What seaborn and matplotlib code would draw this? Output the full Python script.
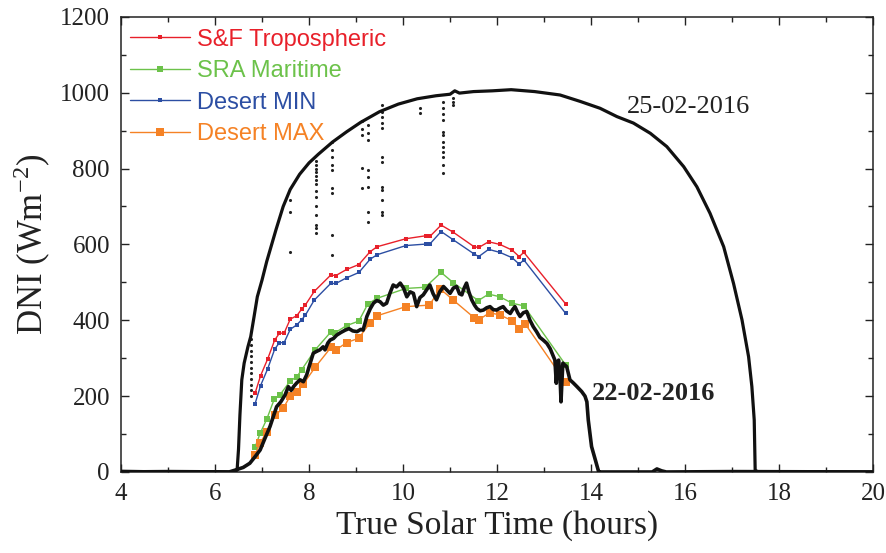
import numpy as np
import pandas as pd
import matplotlib
matplotlib.use("Agg")
import matplotlib.pyplot as plt
import seaborn as sns
from matplotlib.ticker import MultipleLocator

# ---------------- data ----------------
# Clear day 25-02-2016 (measured DNI, smooth envelope)
clear_t = [4.0, 5.0, 6.0, 6.4, 6.47, 6.5, 6.53, 6.57, 6.62, 6.7, 6.76, 6.83, 6.9, 7.0,
           7.1, 7.3, 7.45, 7.6, 7.8, 8.0, 8.2, 8.5, 8.8, 9.1, 9.5, 9.9, 10.3, 10.7,
           11.0, 11.1, 11.2, 11.5, 11.9, 12.3, 12.8, 13.34, 13.77, 14.19, 14.55, 14.9,
           15.26, 15.61, 15.97, 16.25, 16.53, 16.82, 17.03, 17.21, 17.35, 17.42, 17.47,
           17.49, 17.55, 18.5, 20.0]
clear_v = [2, 0, 1, 0, 5, 60, 150, 243, 287, 330, 357, 409, 462, 506,
           555, 640, 700, 745, 785, 815, 838, 870, 897, 922, 950, 970, 984, 992,
           996, 1005, 999, 1003, 1005, 1008, 1003, 994, 977, 959, 937, 920,
           893, 858, 805, 752, 682, 594, 497, 401, 304, 225, 137,
           5, 0, 1, 0]

# Cloud-affected samples of 25-02-2016 (scattered dots)
dots_t = ([6.76] * 11 + [7.6] * 3 + [8.15] * 14 + [8.49] * 9 + [9.13] * 5 + [9.26] * 8 +
          [9.56] * 12 + [10.36] * 2 + [10.84] * 12 + [11.06] * 3)
dots_v = ([200, 215, 230, 245, 260, 275, 290, 305, 320, 335, 350] +
          [717, 686, 581] +
          [820, 810, 800, 790, 780, 770, 760, 740, 726, 700, 678, 651, 643, 630] +
          [870, 850, 830, 810, 797, 749, 736, 625, 572] +
          [925, 905, 889, 802, 749] +
          [915, 895, 876, 797, 778, 752, 686, 659] +
          [968, 950, 935, 920, 907, 831, 818, 752, 744, 717, 686, 678] +
          [960, 947] +
          [975, 960, 945, 928, 897, 889, 871, 857, 844, 831, 810, 789] +
          [986, 976, 968])

# Cloudy day 22-02-2016
cloud_t = [4.0, 5.0, 6.3, 6.43, 6.6, 6.74, 6.85, 6.96, 7.05, 7.17, 7.31, 7.4, 7.49, 7.56,
           7.62, 7.67, 7.74, 7.81, 7.88, 7.95, 8.02, 8.09, 8.16, 8.23, 8.3, 8.34, 8.4,
           8.45, 8.52, 8.59, 8.68, 8.77, 8.85, 8.93, 9.02, 9.1, 9.15, 9.23, 9.3, 9.37,
           9.44, 9.51, 9.58, 9.65, 9.72, 9.79, 9.86, 9.94, 10.01, 10.08, 10.15, 10.22,
           10.29, 10.36, 10.43, 10.5, 10.57, 10.64, 10.71, 10.78, 10.86, 10.93, 11.0,
           11.07, 11.14, 11.2, 11.25, 11.3, 11.35, 11.4, 11.46, 11.52, 11.57, 11.64,
           11.71, 11.78, 11.85, 11.92, 11.99, 12.06, 12.13, 12.2, 12.28, 12.33, 12.38,
           12.44, 12.49, 12.56, 12.63, 12.7, 12.77, 12.84, 12.91, 12.98, 13.06, 13.13,
           13.2, 13.23, 13.26, 13.29, 13.31, 13.34, 13.36, 13.38, 13.4, 13.44, 13.48,
           13.55, 13.62, 13.7, 13.8, 13.87, 13.91, 13.94, 14.01, 14.09, 14.16, 14.2,
           15.3, 15.4, 15.5, 15.6, 17.0, 20.0]
cloud_v = [0, 1, 0, 5, 12, 23, 40, 58, 85, 120, 172, 185, 203, 225,
           215, 225, 235, 243, 238, 256, 285, 313, 318, 322, 330, 322, 340,
           348, 352, 361, 368, 374, 378, 372, 370, 376, 374, 410, 430, 445,
           452, 449, 440, 445, 471, 493, 488, 498, 485, 462, 475, 471,
           436, 460, 467, 480, 493, 470, 454, 475, 489, 480, 471,
           485, 489, 470, 467, 485, 498, 475, 454, 440, 431, 425,
           427, 433, 436, 428, 427, 432, 436, 425, 418, 428, 436,
           420, 410, 420, 423, 400, 383, 370, 355, 348, 339, 325,
           304, 295, 234, 290, 295, 250, 185, 240, 287, 282, 278,
           243, 235, 225, 212, 200, 185, 137, 67, 32, 1, 0,
           0, 8, 3, 0, 1, 0]

# Model series
sf_t = [6.85, 6.97, 7.12, 7.27, 7.37, 7.47, 7.6, 7.74, 7.84, 7.92, 8.11, 8.46, 8.57, 8.8,
        9.06, 9.3, 9.45, 10.06, 10.49, 10.57, 10.81, 11.07, 11.51, 11.61, 11.82, 12.06,
        12.32, 12.47, 12.57, 13.46]
sf_v = [207, 254, 298, 348, 366, 366, 403, 412, 429, 440, 476, 519, 518, 534,
        547, 581, 594, 615, 623, 621, 651, 632, 594, 592, 607, 600,
        585, 568, 579, 443]
dmin_v = [179, 228, 272, 324, 341, 341, 376, 388, 401, 413, 453, 497, 497, 512,
          526, 561, 573, 597, 601, 601, 634, 612, 575, 568, 587, 579,
          565, 548, 559, 418]

sra_t = [6.85, 6.96, 7.1, 7.26, 7.38, 7.6, 7.74, 7.84, 8.13, 8.47, 8.55, 8.8, 9.06, 9.25,
         9.45, 10.06, 10.47, 10.81, 11.07, 11.6, 11.82, 12.06, 12.32, 12.57, 13.46]
sra_v = [65, 102, 139, 192, 203, 240, 251, 269, 322, 370, 367, 386, 398, 443,
         458, 484, 487, 526, 499, 452, 469, 462, 445, 438, 282]

dmax_t = [6.85, 6.96, 7.1, 7.28, 7.45, 7.6, 7.74, 7.88, 8.13, 8.47, 8.57, 8.8, 9.06, 9.3,
          9.45, 10.06, 10.56, 10.79, 11.06, 11.51, 11.61, 11.84, 12.06, 12.32, 12.47,
          12.6, 13.46]
dmax_v = [45, 76, 106, 150, 168, 200, 212, 232, 276, 329, 322, 341, 353, 394,
          412, 436, 440, 483, 454, 407, 401, 420, 414, 399, 376,
          390, 236]

x_ticks = [4, 6, 8, 10, 12, 14, 16, 18, 20]
y_ticks = [0, 200, 400, 600, 800, 1000, 1200]

RED = "#e8202a"
GREEN = "#6cc24a"
BLUE = "#2c4ea3"
ORANGE = "#f58225"

# ---------------- plotting ----------------
sns.set_theme(style="ticks")
plt.rcParams["font.family"] = ["Liberation Serif", "DejaVu Serif"]
plt.rcParams["mathtext.fontset"] = "stix"

fig = plt.figure(figsize=(8.87, 5.53), dpi=100)
ax = fig.add_axes([0.1364, 0.1465, 0.848, 0.823])

series = [
    ("S&F Tropospheric", sf_t, sf_v, RED, 3.0),
    ("SRA Maritime", sra_t, sra_v, GREEN, 4.6),
    ("Desert MIN", sf_t, dmin_v, BLUE, 3.0),
    ("Desert MAX", dmax_t, dmax_v, ORANGE, 5.2),
]
for name, t, v, col, ms in series:
    df = pd.DataFrame({"t": t, "v": v})
    sns.lineplot(data=df, x="t", y="v", ax=ax, color=col, lw=1.0, marker="s",
                 markersize=ms, markeredgewidth=0, sort=False, estimator=None,
                 label=name, zorder=3)

sns.scatterplot(x=dots_t, y=dots_v, ax=ax, color="#222222", s=5, linewidth=0,
                zorder=4, legend=False)
sns.lineplot(x=clear_t, y=clear_v, ax=ax, color="#111111", lw=2.3, sort=False,
             estimator=None, zorder=5, legend=False)
sns.lineplot(x=cloud_t, y=cloud_v, ax=ax, color="#111111", lw=2.6, sort=False,
             estimator=None, zorder=5, legend=False)

ax.text(14.77, 963, "25-02-2016", fontsize=19, va="center", ha="left", color="#222222")
ax.text(14.02, 206, "22-02-2016", fontsize=19, fontweight="bold", va="center",
        ha="left", color="#222222")

ax.set_xlim(4, 20)
ax.set_ylim(0, 1200)
ax.set_xticks(x_ticks)
ax.set_yticks(y_ticks)
ax.xaxis.set_minor_locator(MultipleLocator(1))
ax.yaxis.set_minor_locator(MultipleLocator(100))
ax.tick_params(which="both", direction="in", top=True, right=True, width=1.0,
               color="#222222", labelsize=18, labelcolor="#222222")
ax.tick_params(which="major", length=5.5, pad=8)
ax.tick_params(which="minor", length=3.5)
for s in ax.spines.values():
    s.set_linewidth(1.1)
    s.set_color("#222222")

ax.set_xlabel("True Solar Time (hours)", fontsize=24, color="#222222", labelpad=4)
ax.set_ylabel(r"DNI (Wm$^{\mathregular{-2}}$)", fontsize=25, color="#222222", labelpad=6)

handles, labels = ax.get_legend_handles_labels()
leg = ax.legend(handles, labels, loc="upper left", bbox_to_anchor=(0.012, 0.974),
                borderaxespad=0, borderpad=0, frameon=False, handlelength=2.55,
                handletextpad=0.3, labelspacing=0.4,
                prop={"family": "Liberation Sans", "size": 17})
for txt, (_, _, _, col, _) in zip(leg.get_texts(), series):
    txt.set_color(col)

fig.savefig("out.png", dpi=100)
